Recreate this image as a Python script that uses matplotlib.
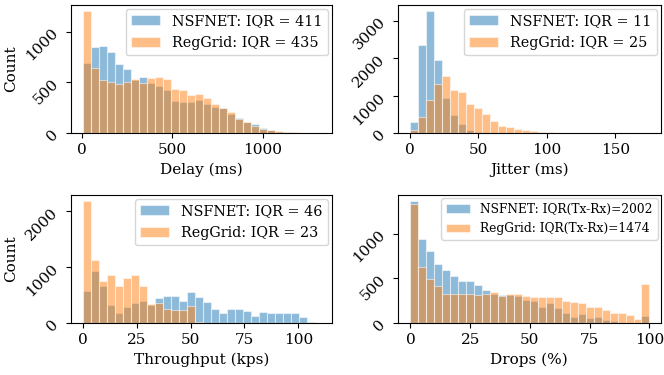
import numpy as np
import matplotlib
matplotlib.use("Agg")
import matplotlib.pyplot as plt

# -------------------------------------------
# DATA (bin counts)
# -------------------------------------------

# Delay (ms): 30 bins
delay_start, delay_width = 9.0, 44.1
delay_nsf = [690, 845, 860, 800, 680, 630, 520, 552, 490, 463, 423, 318, 304, 304, 331,
             291, 258, 245, 189, 155, 112, 89, 56, 28, 15, 8, 4, 2, 1, 0]
delay_reg = [1200, 645, 520, 500, 485, 505, 535, 496, 542, 549, 529, 437, 423, 380, 387,
             344, 288, 250, 208, 139, 110, 72, 46, 33, 22, 14, 10, 3, 1, 0]

# Jitter (ms): 30 bins
jitter_start, jitter_width = 0.5, 5.8
jitter_nsf = [313, 2360, 3250, 1960, 930, 500, 260, 90, 40, 15, 5, 2, 0, 0, 0,
              0, 0, 0, 0, 0, 0, 0, 0, 0, 0, 0, 0, 0, 0, 0]
jitter_reg = [90, 425, 880, 1300, 1520, 1165, 1100, 775, 670, 510, 315, 200, 161, 107, 100,
              50, 45, 40, 15, 8, 5, 3, 2, 1, 1, 0, 0, 0, 0, 1]

# Throughput (kps): 30 bins
thr_start, thr_width = 0.0, 3.72
thr_nsf = [580, 925, 660, 330, 180, 287, 358, 400, 320, 448, 490, 490, 406, 549, 466,
           388, 257, 179, 251, 251, 221, 131, 197, 179, 191, 179, 180, 110, 15, 0]
thr_reg = [2180, 1120, 750, 866, 657, 806, 854, 669, 335, 370, 257, 239, 239, 310, 30,
           0, 0, 0, 0, 0, 0, 0, 0, 0, 0, 0, 0, 0, 0, 0]

# Drops (%): 30 bins
drops_start, drops_width = 0.0, 100 / 30
drops_nsf = [1361, 940, 802, 660, 589, 522, 474, 474, 429, 373, 325, 310, 310, 300, 261,
             243, 186, 224, 168, 112, 75, 105, 56, 75, 37, 26, 7, 2, 1, 82]
drops_reg = [1324, 627, 492, 418, 328, 328, 328, 328, 317, 328, 347, 305, 325, 328, 306,
             291, 287, 287, 298, 250, 235, 224, 179, 179, 149, 119, 119, 93, 48, 436]

labels_delay = ["NSFNET: IQR = 411", "RegGrid: IQR = 435"]
labels_jitter = ["NSFNET: IQR = 11", "RegGrid: IQR = 25"]
labels_thr = ["NSFNET: IQR = 46", "RegGrid: IQR = 23"]
labels_drops = ["NSFNET: IQR(Tx-Rx)=2002", "RegGrid: IQR(Tx-Rx)=1474"]

# -------------------------------------------
# PLOT
# -------------------------------------------

plt.rcParams["font.family"] = ["DejaVu Serif"]
plt.rcParams["font.size"] = 11

fig = plt.figure(figsize=(6.64, 3.75), dpi=100)
ax1 = fig.add_axes([0.1065, 0.6445, 0.393, 0.342])
ax2 = fig.add_axes([0.599, 0.6445, 0.396, 0.342])
ax3 = fig.add_axes([0.1065, 0.138, 0.393, 0.342])
ax4 = fig.add_axes([0.599, 0.138, 0.396, 0.342])

panels = [
    (ax1, delay_start, delay_width, delay_nsf, delay_reg, labels_delay, "Delay (ms)",
     (-61, 1380), [0, 500, 1000], [0, 500, 1000], 10.4),
    (ax2, jitter_start, jitter_width, jitter_nsf, jitter_reg, labels_jitter, "Jitter (ms)",
     (-8.8, 183), [0, 50, 100, 150], [0, 1000, 2000, 3000], 10.4),
    (ax3, thr_start, thr_width, thr_nsf, thr_reg, labels_thr, "Throughput (kps)",
     (-5.6, 115.5), [0, 25, 50, 75, 100], [0, 1000, 2000], 10.4),
    (ax4, drops_start, drops_width, drops_nsf, drops_reg, labels_drops, "Drops (%)",
     (-5.3, 104.7), [0, 25, 50, 75, 100], [0, 500, 1000], 8.8),
]

for ax, start, width, nsf, reg, labels, xlabel, xlim, xt, yt, legfs in panels:
    left = start + width * np.arange(len(nsf))
    ax.bar(left, nsf, width=width, align="edge", color="tab:blue", alpha=0.5,
           edgecolor="white", linewidth=0.8, label=labels[0])
    ax.bar(left, reg, width=width, align="edge", color="tab:orange", alpha=0.5,
           edgecolor="white", linewidth=0.8, label=labels[1])
    ax.set_xlim(*xlim)
    ax.set_ylim(0, 1.05 * max(max(nsf), max(reg)))
    ax.set_xticks(xt)
    ax.set_yticks(yt)
    ax.tick_params(axis="y", labelrotation=45)
    ax.set_xlabel(xlabel)
    ax.legend(loc="upper right", fontsize=legfs, borderaxespad=0.25)

ax1.set_ylabel("Count")
ax3.set_ylabel("Count")

fig.savefig("out.png", dpi=100)
